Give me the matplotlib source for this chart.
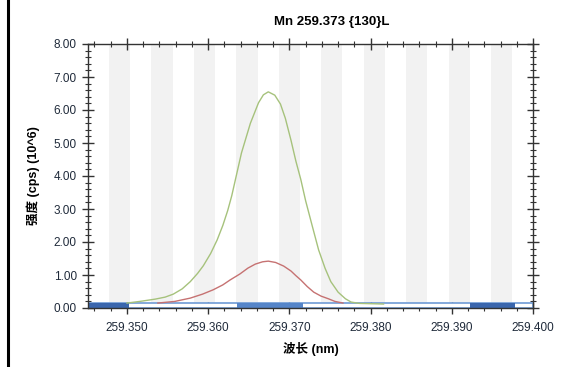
import numpy as np
import matplotlib
matplotlib.use('Agg')
from matplotlib import pyplot as plt
from matplotlib.ticker import MultipleLocator, FormatStrFormatter

plt.rcParams['font.family'] = ['Liberation Sans', 'Noto Sans CJK SC', 'DejaVu Sans']

# Green trace (higher intensity)
green_x = [259.3500, 259.3516, 259.3535, 259.3547, 259.3557, 259.3568, 259.3578,
           259.3587, 259.3594, 259.3603, 259.3611, 259.3618, 259.3624, 259.3629,
           259.3635, 259.3641, 259.3652, 259.3662, 259.3668, 259.3674, 259.3682,
           259.3689, 259.3695, 259.3702, 259.3708, 259.3714, 259.3720, 259.3728,
           259.3736, 259.3744, 259.3751, 259.3760, 259.3769, 259.3776, 259.3786,
           259.3801, 259.3816]
green_y = [0.15, 0.20, 0.27, 0.33, 0.42, 0.58, 0.80,
           1.05, 1.28, 1.65, 2.06, 2.50, 2.95, 3.40,
           4.05, 4.70, 5.60, 6.22, 6.46, 6.55, 6.45,
           6.18, 5.75, 5.08, 4.45, 3.90, 3.25, 2.50,
           1.76, 1.20, 0.80, 0.48, 0.28, 0.18, 0.14,
           0.13, 0.12]

# Red trace (lower intensity)
red_x = [259.3538, 259.3559, 259.3578, 259.3593, 259.3606, 259.3618, 259.3627,
         259.3639, 259.3649, 259.3658, 259.3667, 259.3674, 259.3683, 259.3693,
         259.3702, 259.3708, 259.3714, 259.3722, 259.3730, 259.3739, 259.3748,
         259.3756, 259.3766]
red_y = [0.15, 0.20, 0.30, 0.42, 0.55, 0.70, 0.85,
         1.03, 1.21, 1.33, 1.40, 1.42, 1.38, 1.27,
         1.12, 0.98, 0.85, 0.65, 0.48, 0.36, 0.28,
         0.20, 0.15]

# Highlighted segments of the bottom bar (nm)
bar_segments = [(259.3452, 259.3503, '#3a66ad'),
                (259.3636, 259.3717, '#5585c9'),
                (259.3922, 259.3978, '#3a66ad')]

title = 'Mn 259.373 {130}L'
xmin, xmax = 259.3452, 259.400

fig = plt.figure(figsize=(5.76, 3.67), dpi=100)
ax = fig.add_axes([88 / 576, 59 / 367, 445 / 576, 264 / 367])

# Alternating background stripes
start, width = 259.34777, 0.002615
s = start
while s < xmax:
    ax.axvspan(s, min(s + width, xmax), color='#f2f2f2', lw=0, zorder=0)
    s += 2 * width

# Bottom bar
ax.add_patch(plt.Rectangle((xmin, 0.0), xmax - xmin, 0.15, facecolor='white',
                           edgecolor='#6e9bd6', lw=1.2, zorder=2))
for a, b, c in bar_segments:
    ax.add_patch(plt.Rectangle((a, 0.0), b - a, 0.15, facecolor=c,
                               edgecolor='none', zorder=2.5))

ax.plot(green_x, green_y, color='#a6c27c', lw=1.0, zorder=3)
ax.plot(red_x, red_y, color='#c67272', lw=1.0, zorder=3)

ax.set_xlim(xmin, xmax)
ax.set_ylim(0, 8)

ax.xaxis.set_major_locator(MultipleLocator(0.01))
ax.xaxis.set_minor_locator(MultipleLocator(0.002))
ax.xaxis.set_major_formatter(FormatStrFormatter('%.3f'))
ax.yaxis.set_major_locator(MultipleLocator(1))
ax.yaxis.set_minor_locator(MultipleLocator(0.2))
ax.yaxis.set_major_formatter(FormatStrFormatter('%.2f'))

ax.tick_params(which='major', direction='inout', length=8, width=1, color='#333333',
               labelsize=8.5, labelcolor='#1f2a3a', top=True, right=True)
ax.tick_params(which='minor', direction='inout', length=4, width=0.8, color='#333333',
               top=True, right=True)
ax.tick_params(axis='x', which='major', pad=6)
ax.tick_params(axis='y', which='major', pad=4)

for sp in ax.spines.values():
    sp.set_color('#333333')
    sp.set_linewidth(1)

ax.set_xlabel('波长 (nm)', fontsize=9, fontweight='bold', labelpad=6)
ax.set_ylabel('强度 (cps) (10^6)', fontsize=9, fontweight='bold', labelpad=10)
fig.text(332 / 576, 1 - 22 / 367, title, fontsize=9.5, fontweight='bold',
         ha='center', va='center')

# Left border line
fig.add_artist(plt.Line2D([8 / 576, 8 / 576], [0, 1], color='black', lw=2.2,
                          transform=fig.transFigure))

fig.savefig('out.png', dpi=100)
